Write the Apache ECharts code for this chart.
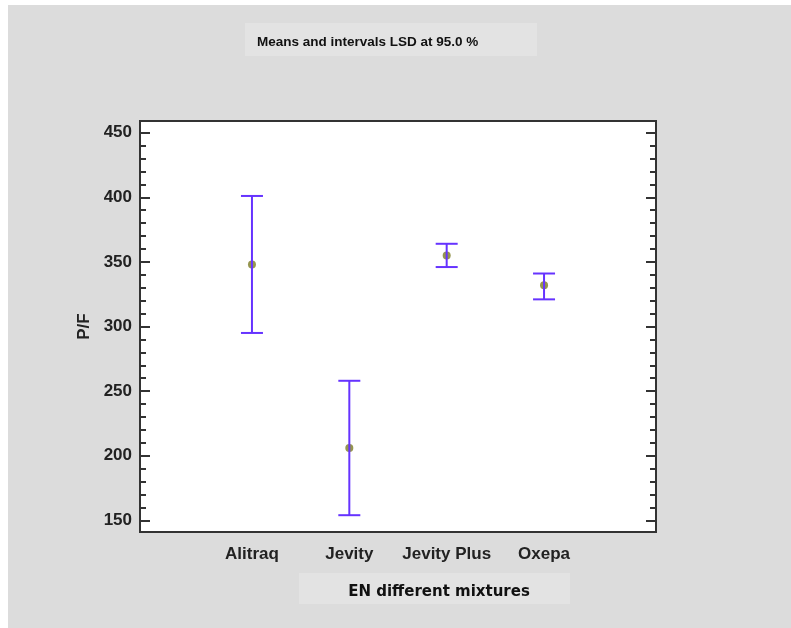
<!DOCTYPE html>
<html>
<head>
<meta charset="utf-8">
<script src="https://cdn.jsdelivr.net/npm/echarts@6/dist/echarts.min.js"></script>
<style>html,body{margin:0;padding:0;background:#fff}#c{width:791px;height:628px}</style>
</head>
<body>
<div id="c"></div>
<script>
const categories = ['Alitraq', 'Jevity', 'Jevity Plus', 'Oxepa'];
const means = [348, 206, 355, 332];
const lower = [295, 154, 346, 321];
const upper = [401, 258, 364, 341];
const yMajorTicks = [150, 200, 250, 300, 350, 400, 450];
const yMinorTicks = [160, 170, 180, 190, 210, 220, 230, 240, 260, 270, 280, 290,
  310, 320, 330, 340, 360, 370, 380, 390, 410, 420, 430, 440];
const xPositions = [0, 1, 2, 3];

const chart = echarts.init(document.getElementById('c'), null, {renderer: 'canvas'});
const YMIN = 141, YMAX = 459;
const frame = '#333333';
const labelFont = 'Liberation Sans, Arial, sans-serif';

function yAx(pos, major, showLabel, showName) {
  return {
    type: 'value', position: pos, min: YMIN, max: YMAX,
    name: showName ? 'P/F' : '', nameLocation: 'middle', nameGap: 41, nameRotate: 90,
    nameTextStyle: {fontFamily: 'Liberation Sans, Arial, sans-serif', fontWeight: 'bold', fontSize: 17, color: '#222'},
    axisLine: {show: false, onZero: false},
    splitLine: {show: false},
    axisTick: {show: true, inside: true, length: major ? 10 : 6,
      customValues: major ? yMajorTicks : yMinorTicks,
      lineStyle: {color: frame, width: 2}},
    axisLabel: {show: showLabel, customValues: yMajorTicks, margin: 8,
      fontFamily: labelFont, fontWeight: 'bold', fontSize: 17, color: '#222'}
  };
}

chart.setOption({
  backgroundColor: '#ffffff',
  animation: false,
  graphic: [
    {type: 'rect', z: -10, shape: {x: 8, y: 5, width: 783, height: 623}, style: {fill: '#dcdcdc'}},
    {type: 'rect', z: -9, shape: {x: 245, y: 23, width: 292, height: 33}, style: {fill: '#e3e3e3'}},
    {type: 'rect', z: -9, shape: {x: 299, y: 573, width: 271, height: 31}, style: {fill: '#e3e3e3'}}
  ],
  title: [
    {text: 'Means and intervals LSD at 95.0 %', left: 252, top: 30,
      textStyle: {fontFamily: labelFont, fontWeight: 'bold', fontSize: 13.5, color: '#111'}},
    {text: 'EN different mixtures', left: 434, top: 580, textAlign: 'center',
      textStyle: {fontFamily: 'DejaVu Sans, sans-serif', fontWeight: 'bold', fontSize: 15, color: '#111'}}
  ],
  grid: {left: 140, top: 121, width: 516, height: 411, show: true,
    backgroundColor: '#ffffff', borderColor: frame, borderWidth: 2},
  xAxis: {
    type: 'value', min: -1.15, max: 4.15,
    axisLine: {show: false, onZero: false}, axisTick: {show: false}, splitLine: {show: false},
    axisLabel: {customValues: xPositions, margin: 14,
      formatter: v => categories[Math.round(v)] || '',
      fontFamily: labelFont, fontWeight: 'bold', fontSize: 17, color: '#222'}
  },
  yAxis: [
    yAx('left', true, true, true),
    yAx('left', false, false, false),
    yAx('right', true, false, false),
    yAx('right', false, false, false)
  ],
  series: [
    {
      type: 'scatter', yAxisIndex: 0, z: 2,
      symbol: 'circle', symbolSize: 8,
      itemStyle: {color: '#8a8a3c', opacity: 0.9},
      data: xPositions.map((x, i) => [x, means[i]])
    },
    {
      type: 'custom', yAxisIndex: 0, z: 3,
      data: xPositions.map((x, i) => [x, lower[i], upper[i]]),
      renderItem: function (params, api) {
        const x = api.value(0);
        const lo = api.coord([x, api.value(1)]);
        const hi = api.coord([x, api.value(2)]);
        const hw = 11;
        const st = {stroke: '#6633ff', lineWidth: 2};
        return {
          type: 'group',
          children: [
            {type: 'line', shape: {x1: lo[0], y1: lo[1], x2: hi[0], y2: hi[1]}, style: st},
            {type: 'line', shape: {x1: lo[0] - hw, y1: lo[1], x2: lo[0] + hw, y2: lo[1]}, style: st},
            {type: 'line', shape: {x1: hi[0] - hw, y1: hi[1], x2: hi[0] + hw, y2: hi[1]}, style: st}
          ]
        };
      }
    }
  ]
});
</script>
</body>
</html>
